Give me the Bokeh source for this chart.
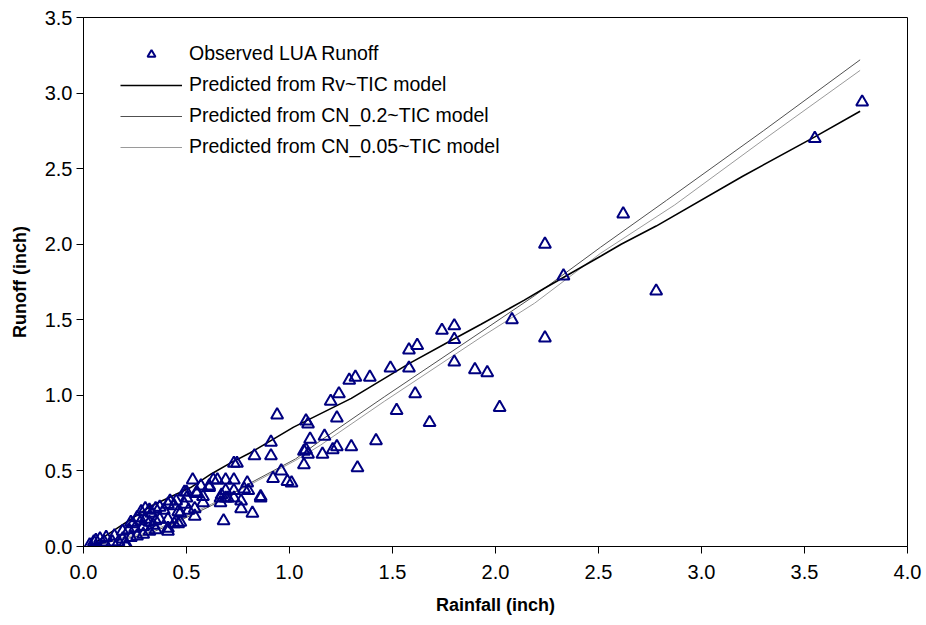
from bokeh.plotting import figure
from bokeh.models import Range1d, Legend, LegendItem, SingleIntervalTicker, CustomJSTickFormatter
from bokeh.embed import file_html
from bokeh.resources import INLINE

# Observed LUA runoff (rainfall, runoff), inches
obs_rain = [0.03, 0.05, 0.06, 0.08, 0.10, 0.11, 0.14, 0.15, 0.17, 0.19, 0.21, 0.22, 0.23, 0.24, 0.26, 0.26,
            0.28, 0.28, 0.25, 0.29, 0.30, 0.32, 0.32, 0.32, 0.35, 0.35, 0.19, 0.20, 0.23, 0.29, 0.30,
            0.33, 0.35, 0.34, 0.37, 0.37, 0.39, 0.41, 0.41, 0.41, 0.41, 0.42, 0.44, 0.44, 0.45, 0.46,
            0.46, 0.47, 0.47, 0.49, 0.49, 0.50, 0.50, 0.51, 0.53, 0.54, 0.54, 0.55, 0.55, 0.57, 0.58,
            0.58, 0.61, 0.61, 0.63, 0.65, 0.665, 0.665, 0.67, 0.69, 0.69, 0.69, 0.68, 0.70, 0.73, 0.73,
            0.73, 0.73, 0.745, 0.765, 0.765, 0.78, 0.795, 0.80, 0.82, 0.83, 0.86, 0.86, 0.91, 0.91,
            0.92, 0.94, 0.96, 0.99, 1.01, 1.07, 1.07, 1.08, 1.08, 1.09, 1.09, 1.10, 1.16, 1.17, 1.20,
            1.21, 1.23, 1.23, 1.24, 1.29, 1.30, 1.32, 1.33, 1.39, 1.42, 1.49, 1.52, 1.58, 1.58, 1.61,
            1.62, 1.68, 1.74, 1.80, 1.80, 1.80, 1.90, 1.96, 2.02, 2.08, 2.24, 2.24, 2.33, 2.62, 2.78,
            3.55, 3.78]
obs_runoff = [0.01, 0.03, 0.04, 0.05, 0.03, 0.06, 0.03, 0.07, 0.03, 0.05, 0.01, 0.11, 0.06, 0.15, 0.19, 0.07,
              0.23, 0.17, 0.12, 0.13, 0.25, 0.24, 0.16, 0.10, 0.25, 0.17, 0.10, 0.02, 0.16, 0.08, 0.18,
              0.22, 0.11, 0.14, 0.26, 0.18, 0.24, 0.28, 0.18, 0.12, 0.10, 0.30, 0.27, 0.15, 0.30, 0.23,
              0.15, 0.16, 0.22, 0.36, 0.28, 0.32, 0.36, 0.24, 0.44, 0.20, 0.25, 0.35, 0.36, 0.40, 0.33,
              0.29, 0.39, 0.40, 0.44, 0.44, 0.32, 0.29, 0.34, 0.44, 0.37, 0.32, 0.17, 0.32, 0.44, 0.37,
              0.32, 0.55, 0.55, 0.30, 0.25, 0.38, 0.42, 0.37, 0.22, 0.60, 0.32, 0.33, 0.69, 0.60,
              0.45, 0.87, 0.50, 0.43, 0.42, 0.54, 0.63, 0.64, 0.83, 0.81, 0.61, 0.71, 0.61, 0.73, 0.96,
              0.64, 0.66, 0.85, 1.01, 1.10, 0.66, 1.12, 0.52, 1.12, 0.70, 1.18, 0.90, 1.30, 1.18, 1.01,
              1.33, 0.82, 1.43, 1.46, 1.37, 1.22, 1.17, 1.15, 0.92, 1.50, 1.38, 2.00, 1.79, 2.20, 1.69,
              2.70, 2.94]

# Predicted from Rv~TIC model
rv_rain = [0.03, 0.14, 0.33, 0.52, 0.62, 0.71, 0.81, 1.02, 1.30, 1.58, 1.78, 1.93, 2.14, 2.24, 2.51,
           2.61, 2.78, 3.20, 3.55, 3.77]
rv_runoff = [0.00, 0.10, 0.27, 0.39, 0.48, 0.55, 0.62, 0.79, 0.98, 1.21, 1.36, 1.47, 1.63, 1.71, 1.92,
             2.00, 2.12, 2.45, 2.71, 2.88]

# Predicted from CN_0.2~TIC model
cn02_rain = [0.03, 0.16, 0.31, 0.45, 0.62, 0.81, 1.03, 1.15, 1.46, 1.93, 2.19, 2.51, 2.83, 3.30, 3.77]
cn02_runoff = [0.00, 0.04, 0.08, 0.16, 0.27, 0.42, 0.58, 0.70, 0.99, 1.42, 1.66, 1.98, 2.29, 2.75, 3.22]

# Predicted from CN_0.05~TIC model
cn005_rain = [0.03, 0.16, 0.31, 0.45, 0.62, 0.81, 1.03, 1.15, 1.46, 1.93, 2.19, 2.51, 2.87, 3.30, 3.77]
cn005_runoff = [0.00, 0.05, 0.09, 0.17, 0.28, 0.41, 0.57, 0.67, 0.96, 1.385, 1.61, 1.94, 2.26, 2.69, 3.15]

legend_labels = ["Observed LUA Runoff", "Predicted from Rv~TIC model",
                 "Predicted from CN_0.2~TIC model", "Predicted from CN_0.05~TIC model"]

FONT = "Liberation Sans"

p = figure(width=926, height=625, output_backend="svg", toolbar_location=None,
           x_range=Range1d(0, 4), y_range=Range1d(0, 3.5),
           min_border_left=83, min_border_right=19, min_border_top=17, min_border_bottom=79)
p.background_fill_color = "white"
p.border_fill_color = "white"
p.outline_line_color = "black"
p.outline_line_width = 1
p.xgrid.visible = False
p.ygrid.visible = False

for ax in (p.xaxis[0], p.yaxis[0]):
    ax.axis_line_color = "black"
    ax.major_tick_line_color = "black"
    ax.major_tick_out = 7
    ax.major_tick_in = 0
    ax.minor_tick_line_color = None
    ax.major_label_text_font = FONT
    ax.major_label_text_font_size = "20px"
    ax.major_label_text_color = "black"
    ax.axis_label_text_font = FONT
    ax.axis_label_text_font_style = "bold"
    ax.axis_label_text_font_size = "18px"
    ax.axis_label_text_color = "black"

p.xaxis.ticker = SingleIntervalTicker(interval=0.5)
p.yaxis.ticker = SingleIntervalTicker(interval=0.5)
fmt = CustomJSTickFormatter(code="return tick.toFixed(1);")
p.xaxis.formatter = fmt
p.yaxis.formatter = fmt
p.xaxis.axis_label = "Rainfall (inch)"
p.yaxis.axis_label = "Runoff (inch)"
p.xaxis.major_label_standoff = 11
p.yaxis.major_label_standoff = 4
p.xaxis.axis_label_standoff = 13
p.yaxis.axis_label_standoff = 12

r_cn005 = p.line(cn005_rain, cn005_runoff, line_color="#9a9a9a", line_width=1)
r_cn02 = p.line(cn02_rain, cn02_runoff, line_color="#505050", line_width=1)
r_rv = p.line(rv_rain, rv_runoff, line_color="black", line_width=1.6)
r_obs = p.scatter(obs_rain, obs_runoff, marker="triangle", size=12, fill_color=None,
                  line_color="#000080", line_width=2)

legend = Legend(items=[
    LegendItem(label=legend_labels[0], renderers=[r_obs]),
    LegendItem(label=legend_labels[1], renderers=[r_rv]),
    LegendItem(label=legend_labels[2], renderers=[r_cn02]),
    LegendItem(label=legend_labels[3], renderers=[r_cn005]),
], location=(37, 388))
legend.padding = 0
legend.margin = 0
legend.border_line_color = None
legend.background_fill_alpha = 0
legend.glyph_width = 62
legend.glyph_height = 20
legend.label_height = 20
legend.spacing = 8
legend.label_standoff = 7
legend.label_text_font = FONT
legend.label_text_font_size = "19.5px"
legend.label_text_color = "black"
p.add_layout(legend, "center")

open("out.html", "w").write(file_html(p, INLINE))
